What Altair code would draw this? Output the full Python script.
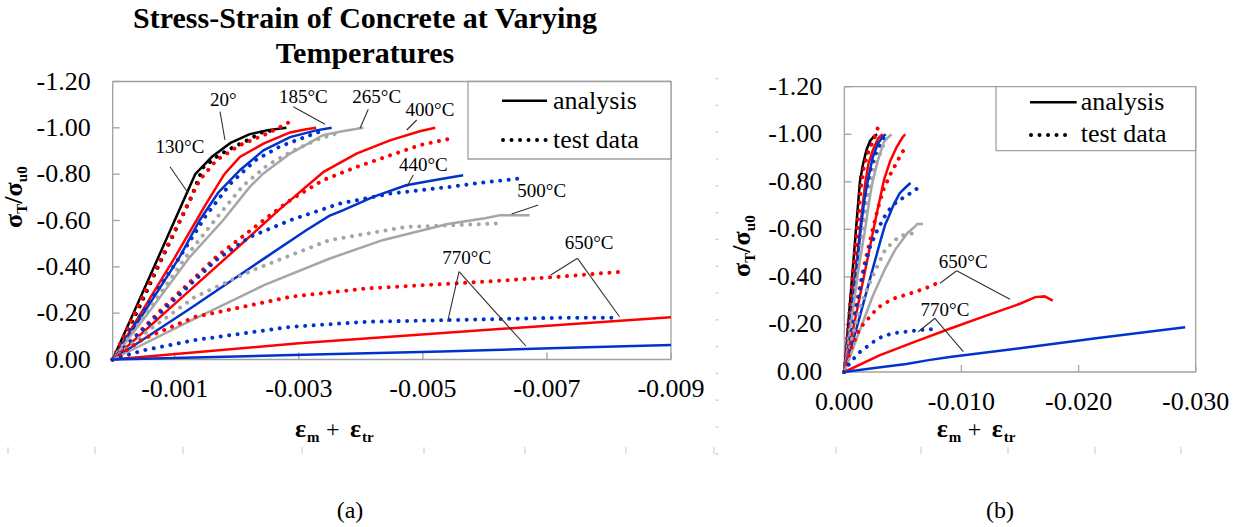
import altair as alt
import pandas as pd

FONT = "Liberation Serif"

# ---------------- data (strain, normalized stress) ----------------
temps = ["20", "130", "185", "265", "400", "440", "500", "650", "770"]
temp_colors = ["#000000", "#ff0000", "#0033cc", "#a6a6a6", "#ff0000",
               "#0033cc", "#a6a6a6", "#ff0000", "#0033cc"]

# analysis curves
a20_x = [0, -0.0004, -0.0008, -0.00133, -0.0016, -0.0019, -0.0022, -0.0025, -0.0028]
a20_y = [0, -0.24, -0.48, -0.80, -0.875, -0.935, -0.972, -0.99, -1.00]
a130_x = [0, -0.0005, -0.0010, -0.0015, -0.0018, -0.00205, -0.00243, -0.00286, -0.0031, -0.00328]
a130_y = [0, -0.22, -0.44, -0.67, -0.80, -0.874, -0.932, -0.98, -0.993, -1.0]
a185_x = [0, -0.0005, -0.00108, -0.0014, -0.0017, -0.00205, -0.00243, -0.00286, -0.00328, -0.00353]
a185_y = [0, -0.20, -0.443, -0.60, -0.72, -0.817, -0.903, -0.96, -0.989, -1.0]
a265_x = [0, -0.0006, -0.001245, -0.00178, -0.00221, -0.00243, -0.00286, -0.00339, -0.0037, -0.00404]
a265_y = [0, -0.21, -0.443, -0.601, -0.745, -0.803, -0.889, -0.968, -0.985, -1.0]
a400_x = [0, -0.001, -0.002, -0.0027, -0.0034, -0.00393, -0.00447, -0.00495, -0.0052]
a400_y = [0, -0.24, -0.48, -0.65, -0.81, -0.889, -0.946, -0.985, -1.0]
a440_x = [0, -0.00125, -0.00248, -0.00312, -0.00349, -0.00371, -0.0042, -0.00473, -0.0052, -0.00565]
a440_y = [0, -0.22, -0.443, -0.558, -0.62, -0.644, -0.702, -0.752, -0.775, -0.795]
a500_x = [0, -0.0012, -0.00244, -0.00349, -0.00435, -0.0054, -0.0060, -0.00624, -0.00672]
a500_y = [0, -0.16, -0.321, -0.435, -0.515, -0.585, -0.61, -0.623, -0.623]
a650_x = [0, -0.003, -0.006, -0.009, -0.012, -0.015, -0.0163, -0.0171, -0.0178]
a650_y = [0, -0.07, -0.127, -0.182, -0.235, -0.287, -0.315, -0.318, -0.30]
a770_x = [0, -0.0029, -0.0053, -0.0072, -0.009, -0.015, -0.022, -0.0291]
a770_y = [0, -0.019, -0.034, -0.050, -0.063, -0.10, -0.145, -0.188]

# test data curves
t20_x = [0, -0.0004, -0.0008, -0.00125, -0.00146, -0.0017, -0.0019, -0.0022, -0.0024, -0.0026]
t20_y = [0, -0.21, -0.44, -0.69, -0.83, -0.88, -0.91, -0.95, -0.98, -0.99]
t130_x = [0, -0.0005, -0.00108, -0.0014, -0.00167, -0.00205, -0.00243, -0.00275, -0.00285]
t130_y = [0, -0.28, -0.60, -0.774, -0.86, -0.925, -0.968, -1.01, -1.025]
t185_x = [0, -0.0005, -0.0011, -0.0015, -0.0019, -0.0023, -0.0027, -0.0031, -0.0034]
t185_y = [0, -0.21, -0.45, -0.62, -0.76, -0.86, -0.92, -0.96, -0.99]
t265_x = [0, -0.0006, -0.0012, -0.0017, -0.0021, -0.0025, -0.0029, -0.0033, -0.0036]
t265_y = [0, -0.22, -0.45, -0.62, -0.75, -0.84, -0.90, -0.95, -0.975]
t400_x = [0, -0.0008, -0.00167, -0.00243, -0.00286, -0.00339, -0.00393, -0.00447, -0.00495, -0.00543]
t400_y = [0, -0.22, -0.443, -0.601, -0.6875, -0.774, -0.831, -0.881, -0.925, -0.953]
t440_x = [0, -0.0008, -0.00167, -0.00221, -0.00286, -0.00366, -0.00447, -0.00543, -0.006, -0.00656]
t440_y = [0, -0.21, -0.43, -0.529, -0.601, -0.673, -0.716, -0.745, -0.765, -0.781]
t500_x = [0, -0.0006, -0.00133, -0.00226, -0.00349, -0.00472, -0.00619]
t500_y = [0, -0.13, -0.271, -0.386, -0.515, -0.572, -0.587]
t650_x = [0, -0.0005, -0.00133, -0.00287, -0.0041, -0.00595, -0.00718, -0.00816]
t650_y = [0, -0.09, -0.184, -0.271, -0.307, -0.335, -0.357, -0.378]
t770_x = [0, -0.0005, -0.00133, -0.00287, -0.0041, -0.00539, -0.00718, -0.00804]
t770_y = [0, -0.04, -0.084, -0.141, -0.163, -0.17, -0.18, -0.18]

# axes ticks and labels
xa_ticks = [-0.001, -0.003, -0.005, -0.007, -0.009]
xa_labels = ["-0.001", "-0.003", "-0.005", "-0.007", "-0.009"]
xb_ticks = [0.0, -0.01, -0.02, -0.03]
xb_labels = ["0.000", "-0.010", "-0.020", "-0.030"]
y_ticks = [0.0, -0.2, -0.4, -0.6, -0.8, -1.0, -1.2]
y_labels = ["0.00", "-0.20", "-0.40", "-0.60", "-0.80", "-1.00", "-1.20"]

# annotations panel (a)
lab_a_text = ["20°", "130°C", "185°C", "265°C", "400°C", "440°C", "500°C", "650°C", "770°C"]
lab_a_x = [-0.001783, -0.001085, -0.003073, -0.004256, -0.005115, -0.005007, -0.006916, -0.007679, -0.005707]
lab_a_y = [-1.120, -0.916, -1.134, -1.134, -1.077, -0.840, -0.727, -0.502, -0.437]
lead_a_x1 = [-0.00173, -0.000924, -0.002911, -0.00412, -0.004901, -0.004846, -0.006861, -0.007493, -0.007493, -0.005583, -0.005583]
lead_a_y1 = [-1.0696, -0.8322, -1.0912, -1.080, -1.0338, -0.7964, -0.6669, -0.4368, -0.4368, -0.379, -0.379]
lead_a_x2 = [-0.00181, -0.001219, -0.003423, -0.003987, -0.00474, -0.00474, -0.006432, -0.007061, -0.00817, -0.005399, -0.006661]
lead_a_y2 = [-0.9474, -0.7174, -1.0152, -0.998, -0.9906, -0.7459, -0.628, -0.3647, -0.1847, -0.1632, -0.0583]

# annotations panel (b)
lab_b_text = ["650°C", "770°C"]
lab_b_x = [-0.010156, -0.008594]
lab_b_y = [-0.4639, -0.2608]
lead_b_x1 = [-0.009593, -0.009593, -0.007741, -0.007741]
lead_b_y1 = [-0.4261, -0.4261, -0.2259, -0.2259]
lead_b_x2 = [-0.008168, -0.014142, -0.006316, -0.010156]
lead_b_y2 = [-0.3731, -0.3058, -0.1695, -0.0854]

# faint page marks (remnants of the figure's table border)
faint_tick_x = [8, 95, 183, 302, 424, 525, 626, 714, 836, 921, 1008, 1095, 1181]

# ---------------- build tables ----------------
series = {
    "20": (a20_x, a20_y, t20_x, t20_y),
    "130": (a130_x, a130_y, t130_x, t130_y),
    "185": (a185_x, a185_y, t185_x, t185_y),
    "265": (a265_x, a265_y, t265_x, t265_y),
    "400": (a400_x, a400_y, t400_x, t400_y),
    "440": (a440_x, a440_y, t440_x, t440_y),
    "500": (a500_x, a500_y, t500_x, t500_y),
    "650": (a650_x, a650_y, t650_x, t650_y),
    "770": (a770_x, a770_y, t770_x, t770_y),
}
rows = []
for t in temps:
    ax, ay, tx, ty = series[t]
    for i, (x, y) in enumerate(zip(ax, ay)):
        rows.append({"temp": t, "kind": "analysis", "idx": i, "strain": x, "stress": y})
    for i, (x, y) in enumerate(zip(tx, ty)):
        rows.append({"temp": t, "kind": "test", "idx": i, "strain": x, "stress": y})
df = pd.DataFrame(rows)

# page geometry (plot origin)
OX, OY = 112.7, 81.5
W, H = 1083.0, 290.5
FRAME = "#a0a0a0"

xA = alt.Scale(domain=[0, -0.009], range=[0, 671 - OX], nice=False, zero=False)
yA = alt.Scale(domain=[0, -1.2], range=[359.5 - OY, 0], nice=False, zero=False)
xB = alt.Scale(domain=[0, -0.03], range=[844.3 - OX, 1195.7 - OX], nice=False, zero=False)
yB = alt.Scale(domain=[0, -1.2], range=[372 - OY, 86.7 - OY], nice=False, zero=False)
cscale = alt.Scale(domain=temps, range=temp_colors)


def panel(xs, ys, xmax, xticks, xlabels, lab_text, lab_x, lab_y, l_x1, l_y1, l_x2, l_y2):
    X = lambda f: alt.X(f, scale=xs, axis=None)
    Y = lambda f: alt.Y(f, scale=ys, axis=None)
    lines_an = alt.Chart(df).transform_filter(
        f"datum.kind == 'analysis' && datum.strain >= {xmax}"
    ).mark_line(strokeWidth=2.5).encode(
        x=X("strain:Q"), y=Y("stress:Q"),
        color=alt.Color("temp:N", scale=cscale, legend=None),
        detail="temp:N", order="idx:Q",
    )
    lines_te = alt.Chart(df).transform_filter(
        f"datum.kind == 'test' && datum.strain >= {xmax}"
    ).mark_line(strokeWidth=4, strokeDash=[0.01, 8.5], strokeCap="round").encode(
        x=X("strain:Q"), y=Y("stress:Q"),
        color=alt.Color("temp:N", scale=cscale, legend=None),
        detail="temp:N", order="idx:Q",
    )
    ymax = y_ticks[-1]
    frame_df = pd.DataFrame({
        "x": [0, xmax, 0, 0], "y": [ymax, 0, 0, 0],
        "x2": [xmax, xmax, xmax, 0], "y2": [ymax, ymax, 0, ymax],
    })
    frame = alt.Chart(frame_df).mark_rule(color=FRAME, strokeWidth=1.3).encode(
        x=X("x:Q"), y=Y("y:Q"), x2="x2:Q", y2="y2:Q")
    xt = alt.Chart(pd.DataFrame({"x": xticks, "y": [0.0] * len(xticks)})).mark_rule(
        color=FRAME, strokeWidth=1.3, y2Offset=-7).encode(x=X("x:Q"), y=Y("y:Q"), y2="y:Q")
    yt = alt.Chart(pd.DataFrame({"y": y_ticks, "x": [0.0] * len(y_ticks)})).mark_rule(
        color=FRAME, strokeWidth=1.3, x2Offset=7).encode(x=X("x:Q"), y=Y("y:Q"), x2="x:Q")
    xl = alt.Chart(pd.DataFrame({"x": xticks, "y": [0.0] * len(xticks), "t": xlabels})).mark_text(
        font=FONT, fontSize=26, color="black", align="center", baseline="alphabetic", dy=37.5).encode(
        x=X("x:Q"), y=Y("y:Q"), text="t:N")
    yl = alt.Chart(pd.DataFrame({"y": y_ticks, "x": [0.0] * len(y_ticks), "t": y_labels})).mark_text(
        font=FONT, fontSize=26, color="black", align="right", baseline="middle", dx=-22).encode(
        x=X("x:Q"), y=Y("y:Q"), text="t:N")
    leaders = alt.Chart(pd.DataFrame({"x": l_x1, "y": l_y1, "x2": l_x2, "y2": l_y2})).mark_rule(
        color="#333333", strokeWidth=1.1).encode(x=X("x:Q"), y=Y("y:Q"), x2="x2:Q", y2="y2:Q")
    labels = alt.Chart(pd.DataFrame({"t": lab_text, "x": lab_x, "y": lab_y})).mark_text(
        font=FONT, fontSize=19, color="black", align="center", baseline="middle").encode(
        x=X("x:Q"), y=Y("y:Q"), text="t:N")
    return alt.layer(frame, xt, yt, xl, yl, lines_an, lines_te, leaders, labels)


panelA = panel(xA, yA, -0.009, xa_ticks, xa_labels,
               lab_a_text, lab_a_x, lab_a_y, lead_a_x1, lead_a_y1, lead_a_x2, lead_a_y2)
panelB = panel(xB, yB, -0.03, xb_ticks, xb_labels,
               lab_b_text, lab_b_x, lab_b_y, lead_b_x1, lead_b_y1, lead_b_x2, lead_b_y2)

dummy = pd.DataFrame({"k": [0]})


def ptext(text, px, py, size, weight="normal", angle=0, align="left", baseline="alphabetic"):
    return alt.Chart(dummy).mark_text(
        text=text, font=FONT, fontSize=size, fontWeight=weight, angle=angle,
        align=align, baseline=baseline, color="black").encode(
        x=alt.value(px - OX), y=alt.value(py - OY))


def prule(x1, x2, y, dotted=False):
    if dotted:
        m = alt.Chart(dummy).mark_rule(color="black", strokeWidth=4, strokeDash=[0.01, 8.5], strokeCap="round")
    else:
        m = alt.Chart(dummy).mark_rule(color="black", strokeWidth=2.5)
    return m.encode(x=alt.value(x1 - OX), x2=alt.value(x2 - OX), y=alt.value(y - OY))


def pbox(x1, x2, y1, y2):
    return alt.Chart(dummy).mark_rect(fill="white", stroke=FRAME, strokeWidth=1.3).encode(
        x=alt.value(x1 - OX), x2=alt.value(x2 - OX), y=alt.value(y1 - OY), y2=alt.value(y2 - OY))


overlay = []
# faint remnants of the page's table border
overlay.append(alt.Chart(dummy).mark_rule(color="#c5ccd6", strokeWidth=3, strokeDash=[1.2, 25.6]).encode(
    x=alt.value(717 - OX), y=alt.value(78 - OY), y2=alt.value(455 - OY)))
overlay.append(alt.Chart(pd.DataFrame({"px": [v - OX for v in faint_tick_x]})).mark_rule(
    color="#c5ccd6", strokeWidth=1).encode(
    x=alt.X("px:Q", scale=None, axis=None), y=alt.value(447 - OY), y2=alt.value(454 - OY)))

# title
overlay.append(ptext("Stress-Strain of Concrete at Varying", 365, 28, 30, "bold", align="center"))
overlay.append(ptext("Temperatures", 365, 63, 30, "bold", align="center"))


def ytitle(bx, by):
    return [
        ptext("σ", bx, by, 26, "bold", angle=270),
        ptext("T", bx + 5, by - 14.3, 15, "bold", angle=270),
        ptext("/", bx, by - 24.3, 26, "bold", angle=270),
        ptext("σ", bx, by - 31.5, 26, "bold", angle=270),
        ptext("u0", bx + 5, by - 45.8, 15, "bold", angle=270),
    ]


def xtitle(bx, by):
    return [
        ptext("ε", bx, by, 26, "bold"),
        ptext("m", bx + 12, by + 5, 15, "bold"),
        ptext("+", bx + 31, by, 24),
        ptext("ε", bx + 55, by, 26, "bold"),
        ptext("tr", bx + 67, by + 5, 15, "bold"),
    ]


overlay += ytitle(22, 228)
overlay += ytitle(750, 277)
overlay += xtitle(295, 437)
overlay += xtitle(936.7, 437)

# legends
overlay += [
    pbox(468, 671, 81.5, 159),
    prule(502, 547, 100.7),
    ptext("analysis", 553, 109.3, 26),
    prule(503, 546, 140, dotted=True),
    ptext("test data", 553, 148.3, 26),
    pbox(996, 1195.7, 86.7, 150.7),
    prule(1030, 1076.7, 102.3),
    ptext("analysis", 1080.7, 110, 26),
    prule(1031, 1073, 135, dotted=True),
    ptext("test data", 1080.7, 141.7, 26),
]

overlay.append(ptext("(a)", 350, 518, 24, align="center"))
overlay.append(ptext("(b)", 1000, 518, 24, align="center"))

chart = alt.layer(panelA, panelB, *overlay).resolve_scale(
    x="independent", y="independent"
).properties(
    width=W, height=H,
    autosize=alt.AutoSizeParams(type="none"),
    padding={"left": OX, "top": OY, "right": 1237 - OX - W, "bottom": 527 - OY - H},
    background="white",
).configure_view(strokeWidth=0)

chart.save("out.html", embed_options={"renderer": "svg", "actions": False})
